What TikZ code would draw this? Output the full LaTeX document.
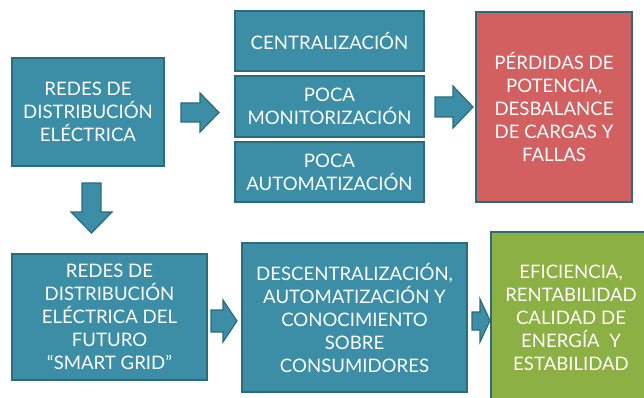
\documentclass[tikz,border=0pt]{standalone}
\usepackage{fontspec}
\setmainfont{Lato}
\definecolor{tealfill}{HTML}{3B8EA5}
\definecolor{tealedge}{HTML}{2A6B7C}
\definecolor{redfill}{HTML}{D26060}
\definecolor{greenfill}{HTML}{8CB043}
\tikzset{
  boxbase/.style={rectangle, draw=tealedge, line width=1.6pt, inner sep=0pt, align=center,
    text=white, font=\fontsize{18.6}{23}\selectfont},
  tealbox/.style={boxbase, fill=tealfill},
  redbox/.style={boxbase, fill=redfill},
  greenbox/.style={boxbase, fill=greenfill},
  blockarrow/.style={fill=tealfill, draw=tealedge, line width=1.2pt, line join=miter},
}
\begin{document}
\begin{tikzpicture}[x=1pt,y=-1pt]
\useasboundingbox (0,0) rectangle (644,398);
\clip (0,0) rectangle (644,398);
\fill[white] (0,0) rectangle (644,398);
% top row
\node[tealbox, minimum width=152pt, minimum height=108pt] (b1) at (88,112) {REDES DE\\DISTRIBUCIÓN\\ELÉCTRICA};
\node[tealbox, minimum width=189pt, minimum height=60pt] (c1) at (329.5,41) {CENTRALIZACIÓN};
\node[tealbox, minimum width=189pt, minimum height=61pt] (c2) at (329.5,106.5) {POCA\\MONITORIZACIÓN};
\node[tealbox, minimum width=189pt, minimum height=60pt] (c3) at (329.5,172) {POCA\\AUTOMATIZACIÓN};
\node[redbox, minimum width=156pt, minimum height=190pt] (r) at (554,107) {PÉRDIDAS DE\\POTENCIA,\\DESBALANCE\\DE CARGAS Y\\FALLAS};
% bottom row
\node[tealbox, minimum width=195pt, minimum height=126pt] (b4) at (109.5,317) {REDES DE\\DISTRIBUCIÓN\\ELÉCTRICA DEL\\FUTURO\\``SMART GRID''};
\node[tealbox, minimum width=225pt, minimum height=149pt] (b5) at (354.5,317.5) {DESCENTRALIZACIÓN,\\AUTOMATIZACIÓN Y\\CONOCIMIENTO\\SOBRE\\CONSUMIDORES};
\node[greenbox, minimum width=160pt, minimum height=172pt] (g) at (571,318) {EFICIENCIA,\\RENTABILIDAD\\CALIDAD DE\\ENERGÍA~~Y\\ESTABILIDAD};
% block arrows
\draw[blockarrow] (181,103) -- (200,103) -- (200,93) -- (219,112.5) -- (200,132) -- (200,122) -- (181,122) -- cycle;
\draw[blockarrow] (435,97) -- (453,97) -- (453,86) -- (473,107) -- (453,128) -- (453,117) -- (435,117) -- cycle;
\draw[blockarrow] (82,183) -- (101,183) -- (101,212) -- (112,212) -- (91.5,233) -- (71,212) -- (82,212) -- cycle;
\draw[blockarrow] (211,310) -- (223,310) -- (223,300) -- (237,321) -- (223,342) -- (223,332) -- (211,332) -- cycle;
\draw[blockarrow] (472,312) -- (480,312) -- (480,299) -- (490,320.5) -- (480,342) -- (480,330) -- (472,330) -- cycle;
\end{tikzpicture}
\end{document}
